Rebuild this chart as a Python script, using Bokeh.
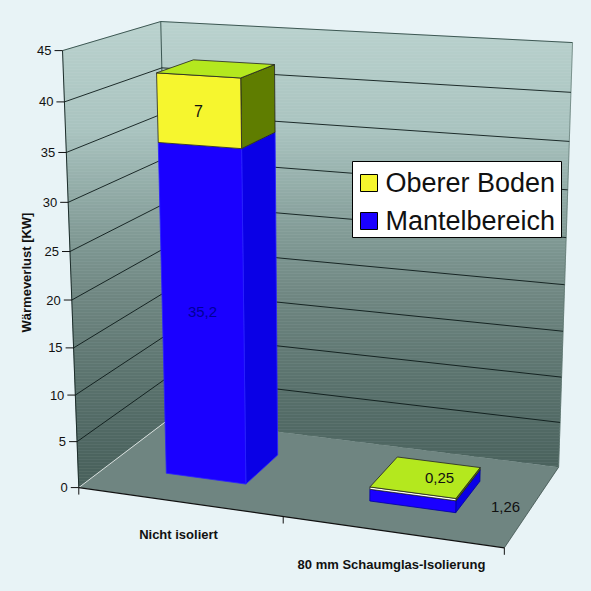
import numpy as np
from bokeh.plotting import figure
from bokeh.core.properties import value
from bokeh.embed import file_html
from bokeh.resources import INLINE

# ---- data
categories = ["Nicht isoliert", "80 mm Schaumglas-Isolierung"]
mantel = [35.2, 1.26]
boden = [7, 0.25]
y_ticks = [0, 5, 10, 15, 20, 25, 30, 35, 40, 45]
y_title = "Wärmeverlust [KW]"
series_names = ["Oberer Boden", "Mantelbereich"]

# ---- layout / styles
BG = "#e8f3f6"
FONT = value("Liberation Sans")
W = 575
# calibration of the 3D view: (cat, value, depth) -> reference pixel
calib = [
    ((0, 0, 0), (78, 487)), ((2, 0, 0), (504, 547)),
    ((2, 0, 1), (558, 467)), ((0, 0, 1), (170, 417.5)),
    ((0, 45, 0), (62.5, 50)), ((0, 45, 1), (160, 21)),
    ((2, 45, 1), (572, 42)), ((0, 20, 0), (71, 300)),
]
bar_x = (0.3, 0.7)
bar_z = (0.3, 0.7)


def fit_camera(pairs):
    rows = []
    for (x, y, z), (u, v) in pairs:
        X = [x, y / 45, z, 1]
        rows.append(X + [0, 0, 0, 0] + [-u * c for c in X])
        rows.append([0, 0, 0, 0] + X + [-v * c for c in X])
    _, _, vt = np.linalg.svd(np.array(rows, float))
    return vt[-1].reshape(3, 4)


P = fit_camera(calib)


def pr(x, y, z):
    h = P @ np.array([x, y / 45, z, 1.0])
    return h[0] / h[2], h[1] / h[2]


def poly(points):
    pts = [pr(*q) for q in points]
    return [a for a, _ in pts], [b for _, b in pts]


def clip_band(xs_, ys_, y0, y1):
    """Cut a polygon to the horizontal band y0..y1 on the picture."""
    pts = list(zip(xs_, ys_))

    def clip(pts, inside, cut):
        out = []
        for i, a in enumerate(pts):
            b = pts[(i + 1) % len(pts)]
            if inside(a):
                out.append(a)
            if inside(a) != inside(b):
                out.append(cut(a, b))
        return out

    def at(level):
        return lambda a, b: (a[0] + (b[0] - a[0]) * (level - a[1]) / (b[1] - a[1]), level)

    pts = clip(pts, lambda q: q[1] >= y0, at(y0))
    if pts:
        pts = clip(pts, lambda q: q[1] <= y1, at(y1))
    return pts


grad_y = [21, 130, 240, 300, 380, 467, 600]
grad_rgb = [(0xba, 0xd2, 0xce), (0xa9, 0xc3, 0xbf), (0x7f, 0x98, 0x93), (0x6e, 0x85, 0x80),
            (0x5a, 0x72, 0x6d), (0x4a, 0x62, 0x5d), (0x4a, 0x62, 0x5d)]


def wall_color(y):
    c = [round(np.interp(y, grad_y, [g[k] for g in grad_rgb])) for k in range(3)]
    return "#%02x%02x%02x" % tuple(c)


p = figure(width=W, height=W, x_range=(0, W), y_range=(W, 0),
           output_backend="svg", toolbar_location=None, min_border=0,
           background_fill_color=BG, border_fill_color=BG, outline_line_color=None)
p.axis.visible = False
p.grid.visible = False

# walls as horizontal bands giving the vertical gradient
walls = [poly([(0, 0, 0), (0, 0, 1), (0, 45, 1), (0, 45, 0)]),
         poly([(0, 0, 1), (2, 0, 1), (2, 45, 1), (0, 45, 1)])]
step = 3
xs, ys, cols = [], [], []
for y0 in range(15, 495, step):
    c = wall_color(y0 + step / 2)
    for wx, wy in walls:
        pts = clip_band(wx, wy, y0, y0 + step)
        if len(pts) >= 3:
            xs.append([q[0] for q in pts]); ys.append([q[1] for q in pts]); cols.append(c)
p.patches(xs, ys, fill_color=cols, line_color=cols, line_width=0.5)

# frame of the walls
for a, b, col, lw in [((0, 45, 0), (0, 45, 1), "#2e4844", 0.9), ((0, 45, 1), (2, 45, 1), "#2e4844", 0.9),
                      ((2, 45, 1), (2, 0, 1), "#5d7570", 0.7), ((0, 45, 1), (0, 0, 1), "#2e4844", 0.9),
                      ((0, 45, 0), (0, 0, 0), "#1c2c2a", 1.0)]:
    q = poly([a, b])
    p.line(q[0], q[1], line_color=col, line_width=lw)

# gridlines
for t in y_ticks[1:-1]:
    q = poly([(0, t, 0), (0, t, 1), (2, t, 1)])
    p.line(q[0], q[1], line_color="#0c1a18", line_width=0.9)

# floor
q = poly([(0, 0, 0), (2, 0, 0), (2, 0, 1), (0, 0, 1)])
p.patch(q[0], q[1], fill_color="#6f8581", line_color=None)
q = poly([(0, 0, 0), (0, 0, 1)])
p.line(q[0], q[1], line_color="#f2f6f5", line_width=0.8)
q = poly([(2, 0, 0), (2, 0, 1)])
p.line(q[0], q[1], line_color="#3c4f4b", line_width=0.8)
q = poly([(0, 0, 0), (2, 0, 0)])
p.line(q[0], q[1], line_color="#111111", line_width=1.2)

# axis ticks and labels
for t in y_ticks:
    u, v = pr(0, t, 0)
    p.line([u - 8, u], [v, v], line_color="#111111", line_width=1)
    p.text([u - 11], [v], text=[str(t)], text_align="right", text_baseline="middle",
           text_font=FONT, text_font_size="13px", text_color="#111111")
for c in range(3):
    u, v = pr(c, 0, 0)
    p.line([u, u], [v, v + 7], line_color="#111111", line_width=1)
label_pos = [(178, 534), (391, 564)]
for (u, v), c in zip(label_pos, categories):
    p.text([u], [v], text=[c], text_align="center", text_baseline="middle", text_font=FONT,
           text_font_size="13px", text_font_style="bold", text_color="#111111")
p.text([26], [272], text=[y_title], angle=[np.pi / 2], text_align="center", text_baseline="middle",
       text_font=FONT, text_font_size="13px", text_font_style="bold", text_color="#111111")


def faces(bottom, top):
    front, side, lid = ([], []), ([], []), ([], [])
    for c in range(len(categories)):
        x0, x1 = c + bar_x[0], c + bar_x[1]
        z0, z1 = bar_z
        lo, hi = bottom[c], top[c]
        a, b = poly([(x0, lo, z0), (x1, lo, z0), (x1, hi, z0), (x0, hi, z0)])
        front[0].append(a); front[1].append(b)
        a, b = poly([(x1, lo, z0), (x1, lo, z1), (x1, hi, z1), (x1, hi, z0)])
        side[0].append(a); side[1].append(b)
        a, b = poly([(x0, hi, z0), (x1, hi, z0), (x1, hi, z1), (x0, hi, z1)])
        lid[0].append(a); lid[1].append(b)
    return front, side, lid


zeros = [0, 0]
stack = [m + b for m, b in zip(mantel, boden)]
f, s, _ = faces(zeros, mantel)
blue_edge = ["#2a22ff", "#00009c"]
p.patches(s[0], s[1], fill_color="#0a00e6", line_color=blue_edge, line_width=0.8)
p.patches(f[0], f[1], fill_color="#1a00ff", line_color=blue_edge, line_width=0.8)
f, s, t = faces(mantel, stack)
p.patches(s[0], s[1], fill_color="#5f7d00", line_color="#222222", line_width=0.8)
p.patches(f[0], f[1], fill_color=["#f6f62e", "#fffff2"], line_color="#222222", line_width=0.8)
p.patches(t[0], t[1], fill_color="#b4e81e", line_color="#222222", line_width=0.8)

# value labels
val_text = lambda x: str(x).replace(".", ",")
for (u, v), val, col, size in [((198, 110), boden[0], "#111111", "16px"), ((202, 311), mantel[0], "#00009a", "15px"),
                               ((439, 477), boden[1], "#111111", "15px"), ((505, 506), mantel[1], "#111111", "15px")]:
    p.text([u], [v], text=[val_text(val)], text_align="center", text_baseline="middle",
           text_font=FONT, text_font_size=size, text_color=col)

# legend
p.quad(left=[352], right=[561], top=[161], bottom=[237], fill_color="#ffffff", line_color="#000000", line_width=1)
for yc, name, col in [(182.5, series_names[0], "#f6f62e"), (220.5, series_names[1], "#1a00ff")]:
    p.quad(left=[360], right=[377], top=[yc - 8.5], bottom=[yc + 8.5], fill_color=col, line_color="#000000", line_width=1)
    p.text([385], [yc], text=[name], text_align="left", text_baseline="middle",
           text_font=FONT, text_font_size="27px", text_color="#111111")

html = file_html(p, INLINE)
html = html.replace("<head>", "<head><style>html,body{background:%s;overflow:hidden}</style>" % BG, 1)
open("out.html", "w").write(html)
